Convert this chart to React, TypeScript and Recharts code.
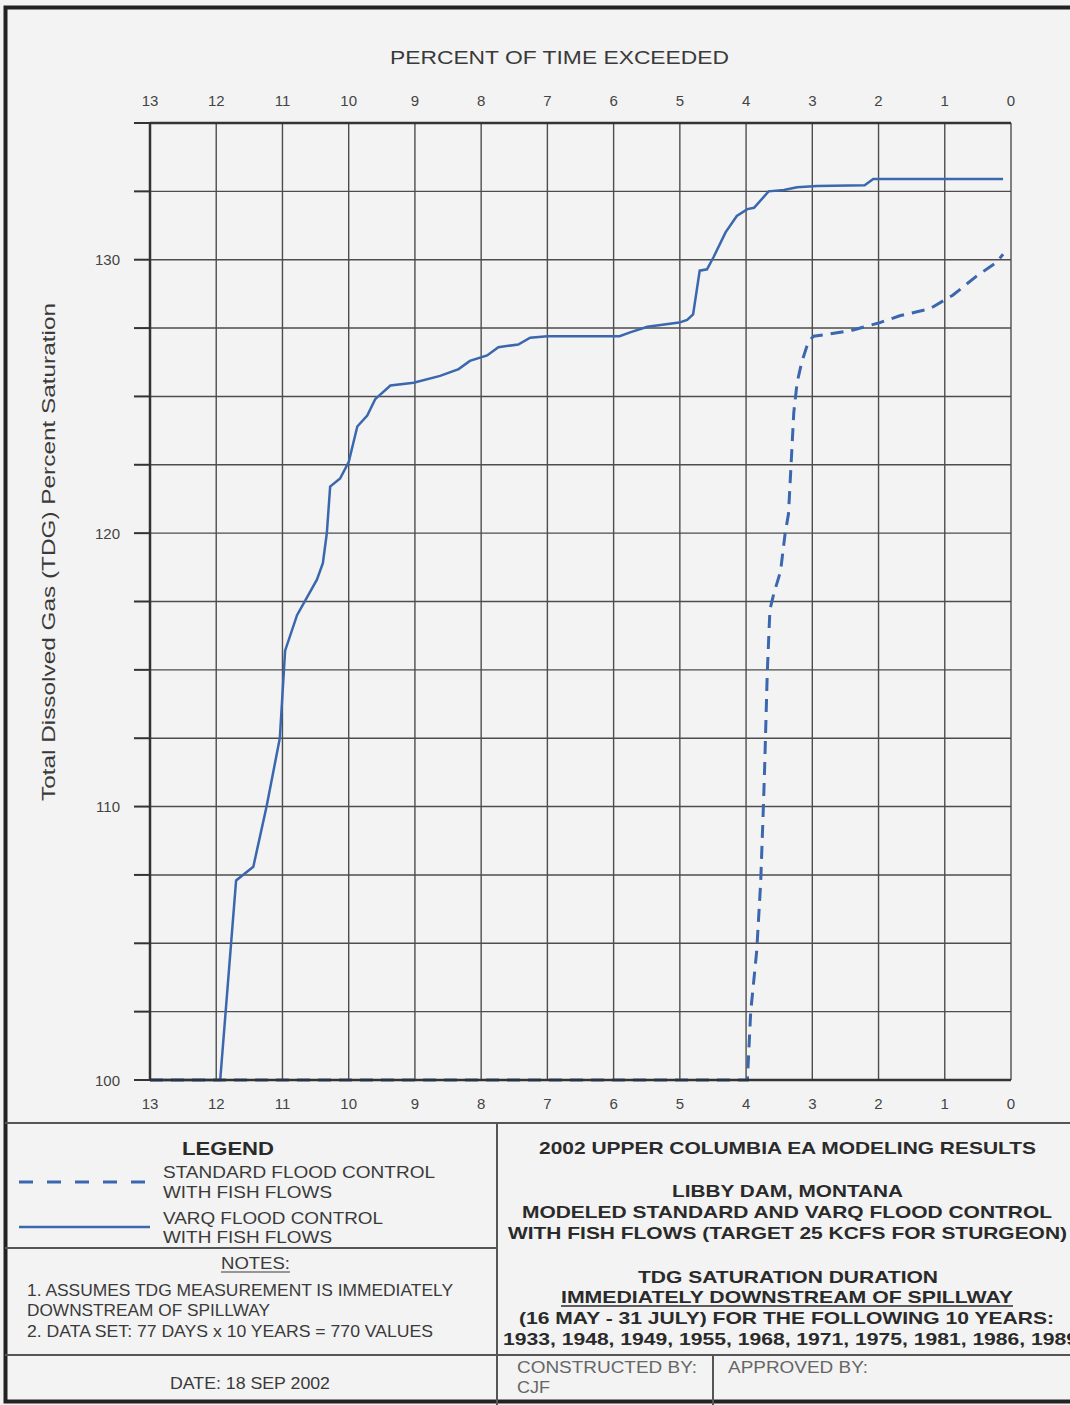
import React from 'react';
import { LineChart, Line, XAxis, YAxis, CartesianGrid, ReferenceLine } from 'recharts';

// ---- axis ticks ----
const percentTicks = [0, 1, 2, 3, 4, 5, 6, 7, 8, 9, 10, 11, 12, 13];
const tdgTicks = [100, 102.5, 105, 107.5, 110, 112.5, 115, 117.5, 120, 122.5, 125, 127.5, 130, 132.5, 135];
const tdgLabelValues = [100, 110, 120, 130];

// ---- VARQ flood control with fish flows (solid) ----
const varqPercent = [13, 11.94, 11.7, 11.44, 11.24, 11.04, 10.96, 10.78, 10.48, 10.39, 10.33, 10.28, 10.13, 10.0, 9.87, 9.72, 9.6, 9.37, 9.02, 8.62, 8.34, 8.17, 7.91, 7.74, 7.44, 7.26, 7.0, 5.91, 5.74, 5.49, 5.01, 4.89, 4.8, 4.7, 4.59, 4.49, 4.31, 4.14, 3.98, 3.88, 3.66, 3.43, 3.23, 2.93, 2.21, 2.08, 0.12];
const varqTdg = [100, 100, 107.3, 107.8, 110.0, 112.5, 115.7, 117.0, 118.3, 118.9, 120.0, 121.7, 122.0, 122.6, 123.9, 124.3, 124.9, 125.4, 125.5, 125.75, 126.0, 126.3, 126.5, 126.8, 126.9, 127.15, 127.2, 127.2, 127.35, 127.55, 127.7, 127.8, 128.0, 129.6, 129.65, 130.1, 131.0, 131.6, 131.85, 131.9, 132.5, 132.55, 132.65, 132.7, 132.72, 132.95, 132.95];

// ---- Standard flood control with fish flows (dashed) ----
const standardPercent = [13, 3.98, 3.93, 3.84, 3.78, 3.74, 3.72, 3.68, 3.64, 3.58, 3.48, 3.41, 3.36, 3.31, 3.28, 3.23, 3.16, 3.06, 2.98, 2.83, 2.43, 1.98, 1.68, 1.23, 0.88, 0.52, 0.22, 0.12];
const standardTdg = [100, 100, 102.5, 104.7, 107.2, 109.9, 111.4, 114.9, 117.2, 117.8, 118.6, 120.0, 120.7, 123.0, 124.4, 125.5, 126.25, 127.0, 127.2, 127.25, 127.4, 127.7, 127.95, 128.2, 128.7, 129.4, 129.9, 130.2];

const varqData = varqPercent.map((p, i) => ({ percent: p, tdg: varqTdg[i] }));
const standardData = standardPercent.map((p, i) => ({ percent: p, tdg: standardTdg[i] }));

const BLUE = '#3a67ae';
const GRID = '#4d4d4d';
const AXIS = '#333333';
const FONT = "'Liberation Sans', Arial, sans-serif";

// Each x tick draws its label both above the plot (top scale) and below it (bottom scale).
const PercentTick = (props: any) => (
  <g>
    <text x={props.x} y={100} textAnchor="middle" dominantBaseline="central" fontSize={15} fill="#444" fontFamily={FONT}>
      {props.payload.value}
    </text>
    <text x={props.x} y={1103} textAnchor="middle" dominantBaseline="central" fontSize={15} fill="#444" fontFamily={FONT}>
      {props.payload.value}
    </text>
  </g>
);
const LeftTick = (props: any) => {
  const v = props.payload.value;
  if (!tdgLabelValues.includes(v)) return <g />;
  return (
    <text x={props.x - 12} y={props.y} textAnchor="end" dominantBaseline="central" fontSize={15} fill="#444" fontFamily={FONT}>
      {v}
    </text>
  );
};

type TProps = { x: number; y: number; w?: number; size?: number; bold?: boolean; fill?: string; anchor?: string; children: any };
const T = ({ x, y, w, size = 17, bold = false, fill = '#3a3a3a', anchor = 'start', children }: TProps) => (
  <text
    x={x}
    y={y}
    textAnchor={anchor as any}
    dominantBaseline="central"
    fontSize={size}
    fontWeight={bold ? 'bold' : 'normal'}
    fill={fill}
    fontFamily={FONT}
    textLength={w}
    lengthAdjust={w ? 'spacingAndGlyphs' : undefined}
  >
    {children}
  </text>
);

export default function App() {
  return (
    <div style={{ position: 'absolute', left: 0, top: 0, width: 1070, height: 1405, background: '#f3f3f3', overflow: 'hidden' }}>
      <svg width={1070} height={1405} style={{ position: 'absolute', left: 0, top: 0 }}>
        {/* frame */}
        <rect x={5.5} y={7.5} width={1100} height={1394} fill="none" stroke="#222" strokeWidth={4} />
        <line x1={5} y1={1123} x2={1070} y2={1123} stroke="#555" strokeWidth={2} />
        <line x1={497} y1={1123} x2={497} y2={1405} stroke="#555" strokeWidth={2} />
        <line x1={5} y1={1248} x2={497} y2={1248} stroke="#555" strokeWidth={2} />
        <line x1={5} y1={1355} x2={1070} y2={1355} stroke="#555" strokeWidth={2} />
        <line x1={713} y1={1355} x2={713} y2={1405} stroke="#555" strokeWidth={2} />

        {/* chart titles */}
        <T x={390} y={57} w={339} size={19}>PERCENT OF TIME EXCEEDED</T>
        <text
          x={48}
          y={552}
          transform="rotate(-90 48 552)"
          textAnchor="middle"
          dominantBaseline="central"
          fontSize={19}
          fill="#3a3a3a"
          fontFamily={FONT}
          textLength={498}
          lengthAdjust="spacingAndGlyphs"
        >
          Total Dissolved Gas (TDG) Percent Saturation
        </text>

        {/* legend */}
        <T x={182} y={1148} w={92} size={19} bold fill="#2a2a2a">LEGEND</T>
        <line x1={19} y1={1182} x2={145} y2={1182} stroke={BLUE} strokeWidth={3} strokeDasharray="14 14" />
        <T x={163} y={1172} w={272}>STANDARD FLOOD CONTROL</T>
        <T x={163} y={1192} w={169}>WITH FISH FLOWS</T>
        <line x1={19} y1={1227} x2={150} y2={1227} stroke={BLUE} strokeWidth={2.5} />
        <T x={163} y={1218} w={220}>VARQ FLOOD CONTROL</T>
        <T x={163} y={1237} w={169}>WITH FISH FLOWS</T>

        {/* notes */}
        <T x={221} y={1263} w={69}>NOTES:</T>
        <line x1={221} y1={1272} x2={290} y2={1272} stroke="#3a3a3a" strokeWidth={1.2} />
        <T x={27} y={1290} w={426}>1.  ASSUMES TDG MEASUREMENT IS IMMEDIATELY</T>
        <T x={27} y={1310} w={243}>DOWNSTREAM OF SPILLWAY</T>
        <T x={27} y={1331} w={406}>2.  DATA SET: 77 DAYS x 10 YEARS = 770 VALUES</T>
        <T x={170} y={1383} w={160}>DATE: 18 SEP 2002</T>

        {/* title block */}
        <T x={539} y={1148} w={497} size={17} bold fill="#2a2a2a">2002 UPPER COLUMBIA EA MODELING RESULTS</T>
        <T x={672} y={1191} w={231} size={17} bold fill="#2a2a2a">LIBBY DAM, MONTANA</T>
        <T x={522} y={1212} w={530} size={17} bold fill="#2a2a2a">MODELED STANDARD AND VARQ FLOOD CONTROL</T>
        <T x={508} y={1233} w={559} size={17} bold fill="#2a2a2a">WITH FISH FLOWS (TARGET 25 KCFS FOR STURGEON)</T>
        <T x={638} y={1277} w={300} size={17} bold fill="#2a2a2a">TDG SATURATION DURATION</T>
        <T x={561} y={1297} w={452} size={17} bold fill="#2a2a2a">IMMEDIATELY DOWNSTREAM OF SPILLWAY</T>
        <line x1={561} y1={1306} x2={1013} y2={1306} stroke="#2a2a2a" strokeWidth={1.5} />
        <T x={519} y={1318} w={535} size={17} bold fill="#2a2a2a">(16 MAY - 31 JULY) FOR THE FOLLOWING 10 YEARS:</T>
        <T x={503} y={1339} w={575} size={17} bold fill="#2a2a2a">1933, 1948, 1949, 1955, 1968, 1971, 1975, 1981, 1986, 1989</T>
        <T x={517} y={1367} w={180} size={16} fill="#666">CONSTRUCTED BY:</T>
        <T x={517} y={1387} w={33} size={16} fill="#666">CJF</T>
        <T x={728} y={1367} w={140} size={16} fill="#666">APPROVED BY:</T>
      </svg>

      <div style={{ position: 'absolute', left: 0, top: 0 }}>
        <LineChart width={1070} height={1405} margin={{ top: 123, right: 59, bottom: 285, left: 0 }}>
          <CartesianGrid xAxisId="bottom" stroke={GRID} strokeWidth={1.4} />
          <XAxis
            xAxisId="bottom"
            orientation="bottom"
            type="number"
            dataKey="percent"
            domain={[0, 13]}
            reversed
            ticks={percentTicks}
            interval={0}
            height={40}
            tickLine={false}
            axisLine={{ stroke: AXIS, strokeWidth: 2.5 }}
            tick={PercentTick}
          />
          <YAxis
            type="number"
            domain={[100, 135]}
            ticks={tdgTicks}
            interval={0}
            width={150}
            tickSize={16}
            tickLine={{ stroke: AXIS, strokeWidth: 2 }}
            axisLine={{ stroke: AXIS, strokeWidth: 2.5 }}
            tick={LeftTick}
          />
          <ReferenceLine xAxisId="bottom" y={135} stroke={AXIS} strokeWidth={2.5} />
          <Line
            data={standardData}
            xAxisId="bottom"
            dataKey="tdg"
            type="linear"
            stroke={BLUE}
            strokeWidth={3}
            strokeDasharray="13 8"
            dot={false}
            isAnimationActive={false}
          />
          <Line
            data={varqData}
            xAxisId="bottom"
            dataKey="tdg"
            type="linear"
            stroke={BLUE}
            strokeWidth={2.5}
            dot={false}
            isAnimationActive={false}
          />
        </LineChart>
      </div>
    </div>
  );
}
